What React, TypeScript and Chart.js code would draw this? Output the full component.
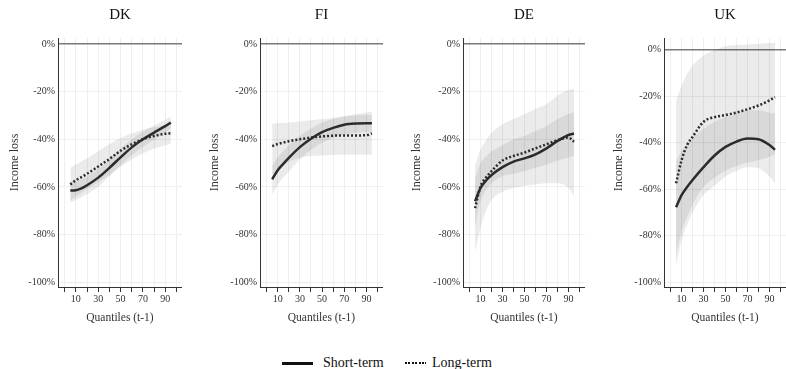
import React, { useEffect, useRef } from 'react';
import { Chart, registerables } from 'chart.js';

Chart.register(...registerables);

const FONT = "'Liberation Serif', 'Times New Roman', serif";

const quantiles = [5, 10, 15, 20, 30, 40, 50, 60, 70, 80, 90, 95];
const xTicks = [0, 10, 20, 30, 40, 50, 60, 70, 80, 90, 100];
const xLabels = [10, 30, 50, 70, 90];
const yTicks = [0, -20, -40, -60, -80, -100];

// DK
const dkShort = [-61.5, -61.4, -60.6, -59.3, -56.1, -52.0, -47.6, -43.4, -40.0, -37.2, -34.5, -33.0];
const dkShortHi = [-57.5, -57.5, -56.7, -55.5, -52.5, -48.5, -44.0, -40.0, -36.8, -34.2, -31.8, -30.5];
const dkShortLo = [-66.5, -65.5, -64.3, -63.0, -60.0, -55.5, -51.0, -46.8, -43.2, -40.2, -37.2, -35.5];
const dkLong = [-59.0, -57.2, -55.9, -54.5, -51.4, -48.3, -44.8, -42.1, -40.0, -38.6, -37.7, -37.5];
const dkLongHi = [-52.0, -50.5, -49.3, -48.0, -45.0, -42.0, -39.5, -37.5, -36.0, -35.0, -34.0, -33.5];
const dkLongLo = [-66.0, -64.0, -62.5, -61.0, -58.0, -55.0, -51.5, -48.5, -46.0, -44.0, -42.5, -42.0];

// FI
const fiShort = [-56.8, -53.0, -50.3, -47.8, -43.3, -39.8, -37.0, -35.2, -33.9, -33.4, -33.3, -33.3];
const fiShortHi = [-51.0, -47.5, -45.0, -42.5, -38.5, -35.5, -33.0, -31.5, -30.5, -30.0, -29.8, -29.8];
const fiShortLo = [-63.5, -59.0, -56.0, -53.5, -48.5, -44.5, -41.5, -39.5, -38.0, -37.3, -37.0, -37.0];
const fiLong = [-42.9, -42.0, -41.4, -40.8, -40.0, -39.3, -38.8, -38.5, -38.4, -38.4, -38.3, -37.5];
const fiLongHi = [-33.5, -33.3, -33.2, -33.0, -32.5, -32.0, -31.5, -31.0, -30.2, -29.5, -28.8, -28.5];
const fiLongLo = [-55.0, -52.5, -51.0, -49.5, -47.8, -47.0, -46.8, -46.6, -46.5, -46.5, -46.5, -46.5];

// DE
const deShort = [-66.0, -60.4, -57.3, -55.0, -51.7, -49.4, -48.0, -46.3, -43.8, -40.7, -38.2, -37.6];
const deShortHi = [-56.5, -50.0, -47.0, -45.0, -42.4, -40.0, -38.6, -36.5, -34.4, -31.5, -29.4, -28.7];
const deShortLo = [-77.0, -66.0, -61.5, -58.5, -55.5, -54.5, -53.4, -52.0, -50.6, -48.9, -47.7, -47.0];
const deLong = [-68.9, -59.7, -56.0, -53.4, -48.9, -47.0, -45.6, -43.8, -42.1, -40.4, -39.3, -41.0];
const deLongHi = [-51.0, -44.2, -40.5, -37.2, -33.7, -31.5, -29.4, -27.3, -25.2, -21.7, -19.2, -18.9];
const deLongLo = [-87.0, -77.0, -70.0, -65.5, -62.0, -60.5, -59.5, -59.0, -58.5, -58.5, -60.5, -64.0];

// UK
const ukShort = [-67.7, -62.5, -59.0, -56.0, -50.5, -45.5, -41.8, -39.5, -38.2, -38.5, -41.0, -43.0];
const ukShortHi = [-48.0, -43.5, -40.5, -38.0, -34.0, -31.0, -29.0, -27.0, -26.0, -26.0, -27.0, -27.4];
const ukShortLo = [-93.0, -82.0, -75.5, -70.0, -62.5, -58.5, -54.5, -52.0, -50.5, -51.0, -54.5, -57.5];
const ukLong = [-57.4, -47.5, -41.0, -37.5, -31.0, -29.0, -28.1, -27.0, -25.6, -24.0, -21.8, -20.4];
const ukLongHi = [-22.0, -15.5, -10.5, -6.8, -2.5, -0.3, 1.5, 2.0, 2.2, 2.5, 2.8, 3.0];
const ukLongLo = [-88.0, -78.0, -72.0, -66.5, -59.0, -55.0, -52.0, -50.0, -48.5, -47.5, -46.0, -45.0];

const countries = ['DK', 'FI', 'DE', 'UK'];
const yMaxes = [2.5, 2.5, 2.5, 5];

const seriesByCountry = [
  [dkShort, dkShortHi, dkShortLo, dkLong, dkLongHi, dkLongLo],
  [fiShort, fiShortHi, fiShortLo, fiLong, fiLongHi, fiLongLo],
  [deShort, deShortHi, deShortLo, deLong, deLongHi, deLongLo],
  [ukShort, ukShortHi, ukShortLo, ukLong, ukLongHi, ukLongLo],
];

// layout (pixels)
const layout = [
  { canvasLeft: 0, axisLeft: 58, right: 182 },
  { canvasLeft: 200, axisLeft: 260, right: 383 },
  { canvasLeft: 402, axisLeft: 463, right: 585 },
  { canvasLeft: 604, axisLeft: 664, right: 786 },
];
const CANVAS_H = 335;
const TOP_H = 38;
const BOTTOM_H = 48;

const LINE = '#2b2b2b';
const BAND = 'rgba(0,0,0,0.08)';

const toPts = (ys: number[]) => quantiles.map((x, i) => ({ x, y: ys[i] }));

function Panel({ idx }: { idx: number }) {
  const ref = useRef<HTMLCanvasElement>(null);
  const { canvasLeft, axisLeft, right } = layout[idx];
  const width = right - canvasLeft;

  useEffect(() => {
    const [s, sHi, sLo, l, lHi, lLo] = seriesByCountry[idx];
    const common = { pointRadius: 0, cubicInterpolationMode: 'monotone' as const, xAxisID: 'x', yAxisID: 'y' };
    const band = { ...common, borderWidth: 0, borderColor: 'transparent', backgroundColor: BAND };
    const chart = new Chart(ref.current as HTMLCanvasElement, {
      type: 'line',
      data: {
        datasets: [
          { ...common, label: 'Short-term', data: toPts(s), borderColor: LINE, borderWidth: 2.5, fill: false },
          { ...common, label: 'Long-term', data: toPts(l), borderColor: LINE, borderWidth: 2.5, borderDash: [2, 2], fill: false },
          { ...band, label: 'sHi', data: toPts(sHi), fill: 3 },
          { ...band, label: 'sLo', data: toPts(sLo), fill: false },
          { ...band, label: 'lHi', data: toPts(lHi), fill: 5 },
          { ...band, label: 'lLo', data: toPts(lLo), fill: false },
        ],
      },
      options: {
        responsive: false,
        animation: false,
        layout: { padding: 0 },
        plugins: { legend: { display: false }, tooltip: { enabled: false } },
        scales: {
          x: {
            type: 'linear',
            position: 'bottom',
            min: -6,
            max: 105,
            afterBuildTicks: (sc: any) => { sc.ticks = xTicks.map((v) => ({ value: v })); },
            afterFit: (sc: any) => { sc.height = BOTTOM_H; },
            grid: { color: '#efefef', tickColor: '#333', tickLength: 5, drawOnChartArea: true },
            border: { display: true, color: '#333', width: 1 },
            ticks: {
              autoSkip: false,
              maxRotation: 0,
              padding: 1,
              color: '#333',
              font: { family: FONT, size: 10 },
              callback: (v: any) => (xLabels.includes(Number(v)) ? String(v) : ''),
            },
            title: {
              display: true,
              text: 'Quantiles (t-1)',
              color: '#333',
              font: { family: FONT, size: 11.5 },
              padding: { top: 0, bottom: 10 },
            },
          },
          xTop: {
            type: 'linear',
            axis: 'x',
            position: 'top',
            grid: { display: false, drawTicks: false },
            border: { display: false },
            ticks: { display: false },
            afterFit: (sc: any) => { sc.height = TOP_H; },
            title: {
              display: true,
              text: countries[idx],
              color: '#111',
              font: { family: FONT, size: 15 },
              padding: { top: 6, bottom: 0 },
            },
          },
          y: {
            type: 'linear',
            min: -102,
            max: yMaxes[idx],
            afterBuildTicks: (sc: any) => { sc.ticks = yTicks.map((v) => ({ value: v })); },
            afterFit: (sc: any) => { sc.width = axisLeft - canvasLeft; },
            grid: {
              drawTicks: false,
              color: (c: any) => (c.tick && c.tick.value === 0 ? '#7a7a7a' : '#efefef'),
              lineWidth: (c: any) => (c.tick && c.tick.value === 0 ? 1.5 : 1),
            },
            border: { display: true, color: '#333', width: 1 },
            ticks: {
              padding: 3,
              color: '#333',
              font: { family: FONT, size: 10 },
              callback: (v: any) => `${v}%`,
            },
            title: {
              display: true,
              text: 'Income loss',
              color: '#333',
              font: { family: FONT, size: 12 },
              padding: { top: 7.8, bottom: 0 },
            },
          },
        },
      } as any,
    });
    return () => chart.destroy();
  }, [idx]);

  return (
    <canvas
      ref={ref}
      width={width}
      height={CANVAS_H}
      style={{ position: 'absolute', left: canvasLeft, top: 0, width, height: CANVAS_H }}
    />
  );
}

const legendItems = ['Short-term', 'Long-term'];

export default function App() {
  const text: React.CSSProperties = {
    position: 'absolute',
    top: 355,
    fontFamily: FONT,
    fontSize: 14,
    lineHeight: '16px',
    color: '#111',
    whiteSpace: 'nowrap',
  };
  return (
    <div style={{ position: 'absolute', left: 0, top: 0, width: 786, height: 369, background: '#fff', overflow: 'hidden' }}>
      {countries.map((c, i) => (
        <Panel key={c} idx={i} />
      ))}
      <div style={{ position: 'absolute', left: 282, top: 361.5, width: 31, height: 3, background: '#111' }} />
      <div style={{ ...text, left: 323 }}>{legendItems[0]}</div>
      <div
        style={{
          position: 'absolute',
          left: 405,
          top: 361.5,
          width: 21,
          height: 2.5,
          background: 'repeating-linear-gradient(to right, #111 0px, #111 2px, transparent 2px, transparent 3.4px)',
        }}
      />
      <div style={{ ...text, left: 432 }}>{legendItems[1]}</div>
    </div>
  );
}
